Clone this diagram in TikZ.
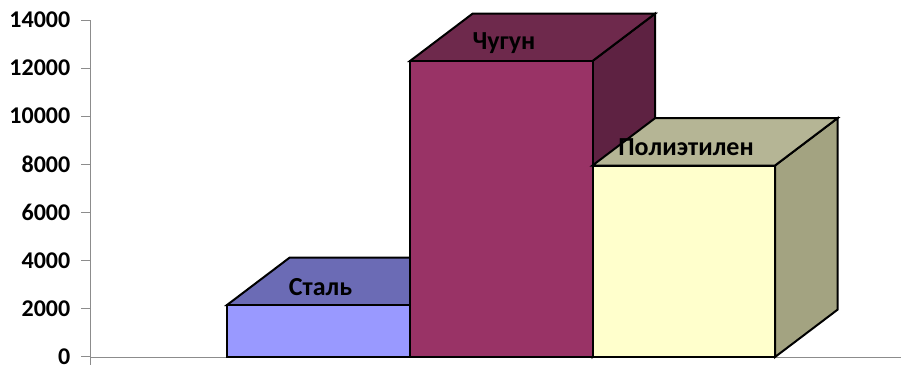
\documentclass[tikz,border=0pt]{standalone}
\usepackage{fontspec}
\setmainfont{Carlito}
\usetikzlibrary{calc}
\begin{document}
\begin{tikzpicture}[x=1pt,y=-1pt,
  face/.style={draw=black,line width=2pt,line join=miter},
  axisline/.style={draw=black!45,line width=1pt},
  ticklabel/.style={anchor=east,inner sep=0pt,font=\fontsize{24}{24}\selectfont\bfseries},
  barlabel/.style={inner sep=0pt,font=\fontsize{26}{26}\selectfont\bfseries}]
\useasboundingbox (0,0) rectangle (901,365);
% axes
\coordinate (o) at (90,357);
\coordinate (top) at (90,20);
\coordinate (xend) at (901,357);
\coordinate (obot) at (90,365);
\draw[axisline] (top) -- (obot);
\draw[axisline] (o) -- (xend);
\foreach \v [count=\i from 0] in {0,2000,4000,6000,8000,10000,12000,14000}{
  \coordinate (t\i) at (81,{356.7-\i*48.1});
  \coordinate (a\i) at (90,{356.7-\i*48.1});
  \draw[axisline] (t\i) -- (a\i);
  \node[ticklabel] (lab\i) at (70.5,{356.7-\i*48.1}) {\v};
}
\def\dx{62.5}\def\dy{-47.3}
% Stal
\coordinate (s1) at (227,357);
\coordinate (s3) at (410,305);
\coordinate (s4) at (227,305);
\draw[face,fill={rgb,255:red,107;green,107;blue,181}] (s4) -- (s3) -- ++(\dx,\dy) -- ($(s4)+(\dx,\dy)$) -- cycle;
\draw[face,fill={rgb,255:red,153;green,153;blue,255}] (s1) rectangle (s3);
% Chugun
\coordinate (c1) at (410,357);
\coordinate (c3) at (592.5,61);
\coordinate (c4) at (410,61);
\coordinate (c2) at (592.5,357);
\draw[face,fill={rgb,255:red,94;green,34;blue,66}] (c2) -- (c3) -- ++(\dx,\dy) -- ++(0,{357-61}) -- cycle;
\draw[face,fill={rgb,255:red,110;green,41;blue,76}] (c4) -- (c3) -- ++(\dx,\dy) -- ++({-592.5+410},0) -- cycle;
\draw[face,fill={rgb,255:red,153;green,51;blue,102}] (c1) rectangle (c3);
% Polietilen
\coordinate (p1) at (592.5,357);
\coordinate (p3) at (775,165.5);
\coordinate (p4) at (592.5,165.5);
\coordinate (p2) at (775,357);
\draw[face,fill={rgb,255:red,163;green,163;blue,129}] (p2) -- (p3) -- ++(\dx,\dy) -- ++(0,{357-165.5}) -- cycle;
\draw[face,fill={rgb,255:red,181;green,181;blue,149}] (p4) -- (p3) -- ++(\dx,\dy) -- ++({-775+592.5},0) -- cycle;
\draw[face,fill={rgb,255:red,255;green,255;blue,204}] (p1) rectangle (p3);
% labels
\node[barlabel] (ls) at (320.5,287) {Сталь};
\node[barlabel] (lc) at (504,43) {Чугун};
\node[barlabel] (lp) at (686,147) {Полиэтилен};
\end{tikzpicture}
\end{document}
